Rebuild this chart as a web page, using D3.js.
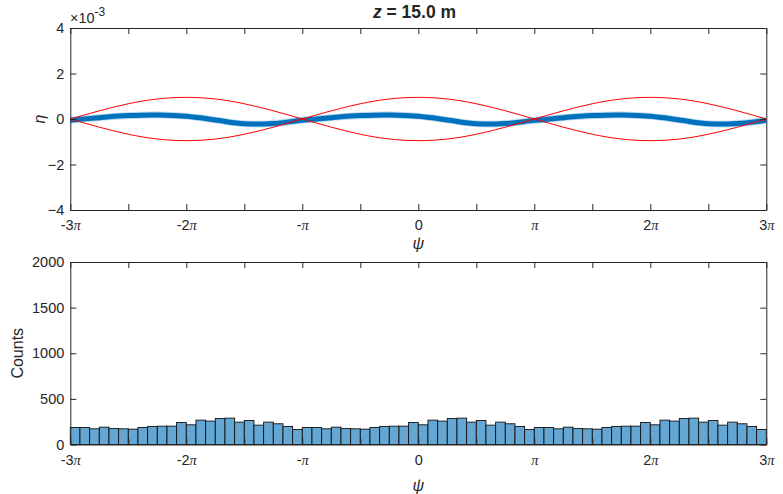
<!DOCTYPE html>
<html>
<head>
<meta charset="utf-8">
<script src="https://cdn.jsdelivr.net/npm/d3@7"></script>
<style>
  body { margin: 0; background: #fff; }
  svg { display: block; }
  text { font-family: "Liberation Sans", Arial, Helvetica, sans-serif; fill: #262626; }
</style>
</head>
<body>
<svg id="chart" width="783" height="494"></svg>
<script>
// Phase positions of the ticks, in multiples of pi
const psiTicks = [-3, -2.5, -2, -1.5, -1, -0.5, 0, 0.5, 1, 1.5, 2, 2.5, 3];
const psiLabelled = [-3, -2, -1, 0, 1, 2, 3];
const etaTicks = [-4, -2, 0, 2, 4];          // eta, units of 1e-3
const countTicks = [0, 500, 1000, 1500, 2000];

// Separatrix (eta, 1e-3) sampled every pi/4 from -3pi to 3pi
const separatrixUpper = [0, 0.36, 0.67, 0.88, 0.95, 0.88, 0.67, 0.36, 0,
  -0.36, -0.67, -0.88, -0.95, -0.88, -0.67, -0.36, 0,
  0.36, 0.67, 0.88, 0.95, 0.88, 0.67, 0.36, 0];
const separatrixLower = [0, -0.36, -0.67, -0.88, -0.95, -0.88, -0.67, -0.36, 0,
  0.36, 0.67, 0.88, 0.95, 0.88, 0.67, 0.36, 0,
  -0.36, -0.67, -0.88, -0.95, -0.88, -0.67, -0.36, 0];

// Centre of the particle band (eta, 1e-3), every pi/4 from -3pi to 3pi
const bandCentre = [-0.05, 0.06, 0.15, 0.18, 0.12, -0.04, -0.21, -0.20,
  -0.05, 0.06, 0.15, 0.18, 0.12, -0.04, -0.21, -0.20,
  -0.06, 0.06, 0.15, 0.18, 0.12, -0.04, -0.21, -0.20, -0.06];

// Particle counts in 72 phase bins of width pi/12 over [-3pi, 3pi]
const binCounts = [
  186, 186, 172, 190, 175, 172, 168, 186, 197, 201, 201, 241,
  216, 267, 256, 285, 289, 245, 263, 212, 245, 227, 197, 164,
  186, 186, 172, 190, 175, 172, 168, 186, 197, 201, 201, 241,
  216, 267, 256, 285, 289, 245, 263, 212, 245, 227, 197, 164,
  186, 186, 172, 190, 175, 172, 168, 186, 197, 201, 201, 241,
  216, 267, 256, 285, 289, 245, 263, 212, 245, 227, 197, 164
];
const psiMin = -3, psiMax = 3;     // multiples of pi

const svg = d3.select("#chart");
const axisColor = "#262626";
const blue = "#0072BD";
const tickFont = 14.5;

const left = 70.3, right = 766.3;
const top1 = 28, bottom1 = 210;
const top2 = 262, bottom2 = 444.5;

const x = d3.scaleLinear().domain([psiMin, psiMax]).range([left, right]);
const yEta = d3.scaleLinear().domain([-4, 4]).range([bottom1, top1]);
const yCnt = d3.scaleLinear().domain([0, 2000]).range([bottom2, top2]);

function piLabel(sel) {
  sel.each(function (d) {
    const t = d3.select(this);
    t.text(null);
    if (!psiLabelled.includes(d)) return;
    if (d === 0) { t.text("0"); return; }
    const lead = d === -1 ? "-" : d === 1 ? "" : String(d);
    if (lead) t.append("tspan").text(lead);
    t.append("tspan").attr("font-family", "'Liberation Serif', 'Times New Roman', serif")
      .attr("font-style", "italic").text("\u03C0");
  });
}

function styleAxis(g) {
  g.attr("font-size", tickFont).attr("font-family", "'Liberation Sans', Arial, sans-serif");
  g.selectAll("path.domain").attr("stroke", axisColor).attr("stroke-width", 1);
  g.selectAll(".tick line").attr("stroke", axisColor).attr("stroke-width", 1);
  g.selectAll(".tick text").attr("fill", axisColor).attr("font-size", tickFont);
}

function frame(yScale, yTicks, yTop, yBottom) {
  const tick = 6;
  const gB = svg.append("g").attr("transform", `translate(0,${yBottom})`)
    .call(d3.axisBottom(x).tickValues(psiTicks).tickSizeInner(-tick).tickSizeOuter(0).tickPadding(10));
  styleAxis(gB);
  gB.selectAll(".tick text").call(piLabel);
  const gT = svg.append("g").attr("transform", `translate(0,${yTop})`)
    .call(d3.axisTop(x).tickValues(psiTicks).tickSizeInner(-tick).tickSizeOuter(0).tickFormat(""));
  styleAxis(gT);
  const gL = svg.append("g").attr("transform", `translate(${left},0)`)
    .call(d3.axisLeft(yScale).tickValues(yTicks).tickSizeInner(-tick).tickSizeOuter(0)
      .tickPadding(6).tickFormat(d3.format("d")));
  styleAxis(gL);
  const gR = svg.append("g").attr("transform", `translate(${right},0)`)
    .call(d3.axisRight(yScale).tickValues(yTicks).tickSizeInner(-tick).tickSizeOuter(0).tickFormat(""));
  styleAxis(gR);
}

// ---------- upper panel: longitudinal phase space ----------
svg.append("clipPath").attr("id", "clip1")
  .append("rect").attr("x", left).attr("y", top1).attr("width", right - left).attr("height", bottom1 - top1);

const samplePsi = d3.range(bandCentre.length).map(i => psiMin + i * 0.25);

const bandLine = d3.line()
  .x((d, i) => x(samplePsi[i]))
  .y(d => yEta(d))
  .curve(d3.curveCatmullRom.alpha(0.5));

const panel1 = svg.append("g").attr("clip-path", "url(#clip1)");
panel1.append("path").datum(bandCentre).attr("d", bandLine)
  .attr("fill", "none").attr("stroke", blue).attr("stroke-opacity", 0.3).attr("stroke-width", 6.6);
panel1.append("path").datum(bandCentre).attr("d", bandLine)
  .attr("fill", "none").attr("stroke", blue).attr("stroke-width", 5);

const sepLine = d3.line()
  .x((d, i) => x(samplePsi[i]))
  .y(d => yEta(d))
  .curve(d3.curveNatural);
[separatrixUpper, separatrixLower].forEach(s => {
  panel1.append("path").datum(s).attr("d", sepLine)
    .attr("fill", "none").attr("stroke", "#FF0000").attr("stroke-width", 1);
});

frame(yEta, etaTicks, top1, bottom1);

// exponent marker
const expo = svg.append("text").attr("x", 70).attr("y", 23).attr("font-size", 14.5);
expo.append("tspan").text("\u00D710");
expo.append("tspan").attr("dy", -7).attr("font-size", 12).text("-3");

// title
const title = svg.append("text").attr("x", 414.5).attr("y", 18)
  .attr("text-anchor", "middle").attr("font-weight", "bold").attr("font-size", 17.5);
title.append("tspan").attr("font-style", "italic").text("z");
title.append("tspan").text(" = 15.0 m");

// axis labels
function psiAxisLabel(yPos) {
  svg.append("text").attr("x", (left + right) / 2).attr("y", yPos)
    .attr("text-anchor", "middle").attr("font-size", 16)
    .attr("font-family", "'Liberation Serif', 'Times New Roman', serif")
    .attr("font-style", "italic").text("\u03C8");
}
psiAxisLabel(249);
svg.append("text").attr("transform", `translate(45,${yEta(0)}) rotate(-90)`)
  .attr("text-anchor", "middle").attr("font-size", 16)
  .attr("font-family", "'Liberation Serif', 'Times New Roman', serif")
  .attr("font-style", "italic").text("\u03B7");

// ---------- lower panel: histogram of phases ----------
const binWidth = (psiMax - psiMin) / binCounts.length;
svg.append("g").selectAll("rect").data(binCounts).join("rect")
  .attr("x", (d, i) => x(psiMin + i * binWidth))
  .attr("width", (d, i) => x(psiMin + (i + 1) * binWidth) - x(psiMin + i * binWidth))
  .attr("y", d => yCnt(d))
  .attr("height", d => yCnt(0) - yCnt(d))
  .attr("fill", "rgb(100,167,212)")
  .attr("stroke", "#111")
  .attr("stroke-width", 0.9);

frame(yCnt, countTicks, top2, bottom2);

psiAxisLabel(491);
svg.append("text").attr("transform", `translate(23,${(top2 + bottom2) / 2}) rotate(-90)`)
  .attr("text-anchor", "middle").attr("font-size", 16).text("Counts");
</script>
</body>
</html>
